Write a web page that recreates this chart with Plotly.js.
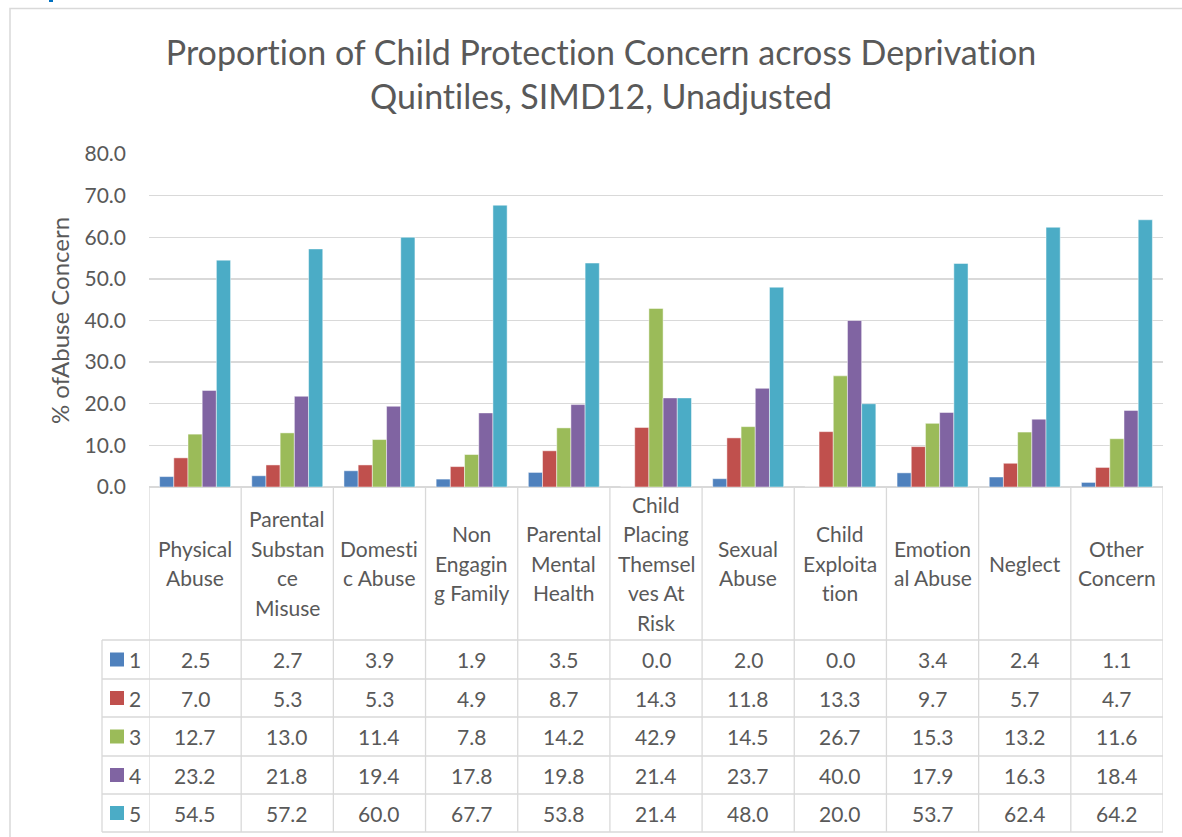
<!DOCTYPE html>
<html>
<head>
<meta charset="utf-8">
<script src="https://cdn.plot.ly/plotly-3.0.1.min.js"></script>
<style>html,body{margin:0;padding:0;background:#fff;}#chart{width:1182px;height:837px;}
svg text{font-variant-ligatures:none;font-feature-settings:"liga" 0;}</style>
</head>
<body>
<div id="chart"></div>
<script>
// ---- data ----
const categories = ["Physical Abuse","Parental Substance Misuse","Domestic Abuse","Non Engaging Family","Parental Mental Health","Child Placing Themselves At Risk","Sexual Abuse","Child Exploitation","Emotional Abuse","Neglect","Other Concern"];
const categoryLines = [
  ["Physical","Abuse"],
  ["Parental","Substan","ce","Misuse"],
  ["Domesti","c Abuse"],
  ["Non","Engagin","g Family"],
  ["Parental","Mental","Health"],
  ["Child","Placing","Themsel","ves At","Risk"],
  ["Sexual","Abuse"],
  ["Child","Exploita","tion"],
  ["Emotion","al Abuse"],
  ["Neglect"],
  ["Other","Concern"]
];
const seriesNames = ["1","2","3","4","5"];
const q1 = [2.5, 2.7, 3.9, 1.9, 3.5, 0.0, 2.0, 0.0, 3.4, 2.4, 1.1];
const q2 = [7.0, 5.3, 5.3, 4.9, 8.7, 14.3, 11.8, 13.3, 9.7, 5.7, 4.7];
const q3 = [12.7, 13.0, 11.4, 7.8, 14.2, 42.9, 14.5, 26.7, 15.3, 13.2, 11.6];
const q4 = [23.2, 21.8, 19.4, 17.8, 19.8, 21.4, 23.7, 40.0, 17.9, 16.3, 18.4];
const q5 = [54.5, 57.2, 60.0, 67.7, 53.8, 21.4, 48.0, 20.0, 53.7, 62.4, 64.2];
const seriesValues = [q1, q2, q3, q4, q5];
const colors = ["#4F81BD","#C0504D","#9BBB59","#8064A2","#4BACC6"];

// ---- layout geometry (pixels) ----
const W = 1182, H = 837;
const L = 149, R = 1163, T = 154, B = 487;
const font = "Lato, 'Open Sans', sans-serif";
const txt = "#595959";
const grid = "#d9d9d9";
const fs = 21;
const px2x = p => (p - L) / (R - L);
const px2y = p => (B - p) / (B - T);

const traces = seriesNames.map((n, i) => ({
  type: "bar",
  name: n,
  x: categories,
  y: seriesValues[i],
  marker: {color: colors[i], line: {color: "rgba(255,255,255,0.8)", width: 0.6}},
  hoverinfo: "x+y+name"
}));

const shapes = [];
const annotations = [];
const line = (x0, y0, x1, y1, xref) => shapes.push({type: "line", xref: xref || "paper", yref: "paper", x0, y0, x1, y1, line: {color: grid, width: 1.3}, layer: "below"});

// outer chart border
shapes.push({type: "rect", xref: "paper", yref: "paper", x0: px2x(10), x1: px2x(1200), y0: px2y(8.5), y1: px2y(860), line: {color: grid, width: 1.5}});
// small blue fragment at top-left
shapes.push({type: "rect", xref: "paper", yref: "paper", x0: px2x(49), x1: px2x(53), y0: px2y(0), y1: px2y(2), line: {width: 0}, fillcolor: "#0070C0"});

// table lines
const rowLines = [640, 679, 717, 756, 794, 832];
rowLines.forEach(p => line(px2x(102), px2y(p), 1, px2y(p)));
for (let i = 0; i <= categories.length; i++) {
  line(i - 0.5, 0, i - 0.5, px2y(832), "x");
}
line(px2x(102), px2y(640), px2x(102), px2y(832));

// category labels
const lineH = 29.5, catCenter = 563;
categoryLines.forEach((lines, ci) => {
  const n = lines.length;
  lines.forEach((s, li) => {
    const py = catCenter + (li - (n - 1) / 2) * lineH;
    annotations.push({xref: "x", yref: "paper", x: categories[ci], y: px2y(py), text: s, showarrow: false,
      xanchor: "center", yanchor: "middle", font: {family: font, size: fs, color: txt}});
  });
});

// value rows + legend keys
seriesNames.forEach((n, si) => {
  const cy = (rowLines[si] + rowLines[si + 1]) / 2;
  seriesValues[si].forEach((v, ci) => {
    annotations.push({xref: "x", yref: "paper", x: categories[ci], y: px2y(cy), text: v.toFixed(1), showarrow: false,
      xanchor: "center", yanchor: "middle", font: {family: font, size: fs, color: txt}});
  });
  shapes.push({type: "rect", xref: "paper", yref: "paper", x0: px2x(110), x1: px2x(124), y0: px2y(cy + 7), y1: px2y(cy - 7),
    line: {width: 0}, fillcolor: colors[si]});
  annotations.push({xref: "paper", yref: "paper", x: px2x(127), y: px2y(cy), text: n, showarrow: false,
    xanchor: "left", yanchor: "middle", font: {family: font, size: fs, color: txt}});
});

const layout = {
  width: W, height: H,
  margin: {l: L, r: W - R, t: T, b: H - B, pad: 0},
  paper_bgcolor: "#fff", plot_bgcolor: "#fff",
  showlegend: false,
  barmode: "group",
  bargap: 0.23, bargroupgap: 0,
  title: {text: "Proportion of Child Protection Concern across Deprivation<br>Quintiles, SIMD12, Unadjusted",
    x: 601 / W, xanchor: "center", xref: "container", y: 1 - 65 / H, yanchor: "top", yref: "container",
    font: {family: font, size: 34, color: txt}},
  xaxis: {type: "category", range: [-0.5, categories.length - 0.5], showticklabels: false, showgrid: false,
    zeroline: false, showline: false, ticks: "", fixedrange: true},
  yaxis: {range: [0, 80], dtick: 10, tickformat: ".1f", showgrid: true, gridcolor: grid, gridwidth: 1.3,
    zeroline: true, zerolinecolor: grid, zerolinewidth: 1.3, showline: false, ticks: "",
    ticklabelstandoff: 22,
    tickfont: {family: font, size: fs, color: txt},
    title: {text: "% ofAbuse Concern", standoff: 8, font: {family: font, size: 24, color: txt}},
    automargin: false, fixedrange: true},
  shapes, annotations
};

Plotly.newPlot("chart", traces, layout, {displayModeBar: false, staticPlot: true});
</script>
</body>
</html>
